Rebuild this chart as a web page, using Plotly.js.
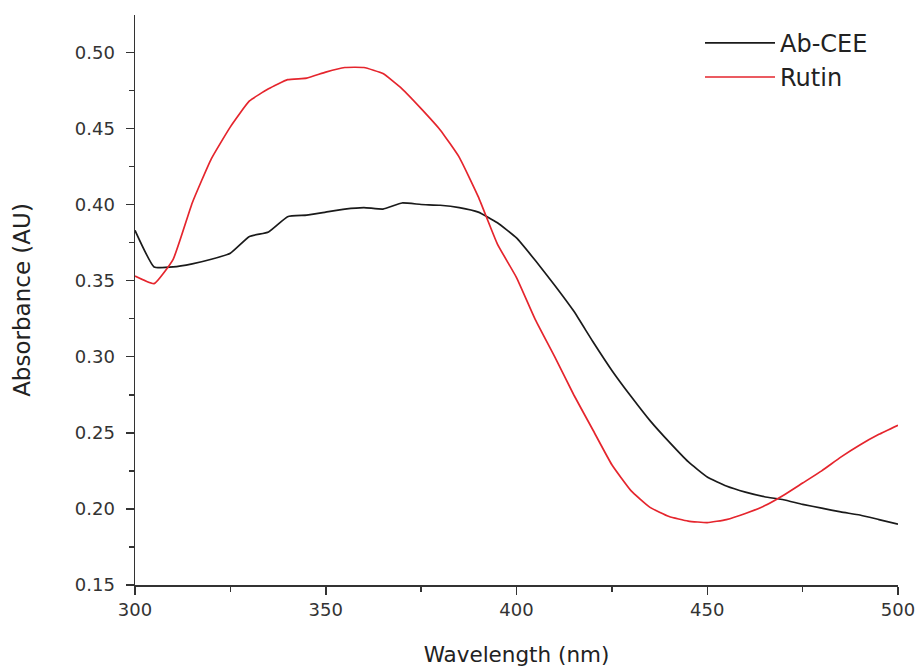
<!DOCTYPE html>
<html>
<head>
<meta charset="utf-8">
<script src="https://cdn.plot.ly/plotly-3.0.1.min.js"></script>
<style>html,body{margin:0;padding:0;background:#fff;}#chart{width:920px;height:667px;}</style>
</head>
<body>
<div id="chart"></div>
<script>
const wavelength = [300,305,310,315,320,325,330,335,340,345,350,355,360,365,370,375,380,385,390,395,400,405,410,415,420,425,430,435,440,445,450,455,460,465,470,475,480,485,490,495,500];
const abCEE = [0.383,0.359,0.359,0.361,0.364,0.368,0.379,0.382,0.392,0.393,0.395,0.397,0.398,0.397,0.401,0.400,0.3995,0.398,0.395,0.388,0.378,0.363,0.347,0.330,0.310,0.291,0.274,0.258,0.244,0.231,0.221,0.215,0.211,0.208,0.206,0.203,0.2005,0.198,0.196,0.193,0.190];
const rutin = [0.353,0.348,0.364,0.401,0.430,0.451,0.468,0.476,0.482,0.483,0.487,0.490,0.490,0.486,0.476,0.463,0.449,0.431,0.405,0.374,0.352,0.324,0.300,0.275,0.252,0.229,0.212,0.201,0.195,0.192,0.191,0.193,0.197,0.202,0.209,0.217,0.225,0.234,0.242,0.249,0.255];
const seriesNames = ['Ab-CEE','Rutin'];
const yTicks = [0.15,0.20,0.25,0.30,0.35,0.40,0.45,0.50];
const yTickText = ['0.15','0.20','0.25','0.30','0.35','0.40','0.45','0.50'];
const xTicks = [300,350,400,450,500];

const fam = '"DejaVu Sans", sans-serif';
const traces = [
  {x: wavelength, y: abCEE, name: seriesNames[0], mode:'lines', line:{color:'#1a1a1a', width:1.7, shape:'spline', smoothing:0.4}},
  {x: wavelength, y: rutin, name: seriesNames[1], mode:'lines', line:{color:'#e5252d', width:1.7, shape:'spline', smoothing:0.4}}
];
const layout = {
  width:920, height:667,
  margin:{l:135, r:22, t:15, b:82},
  paper_bgcolor:'#fff', plot_bgcolor:'#fff',
  font: {family:fam, color:'#333', size:18},
  showlegend:true,
  legend:{x:0.7405, y:0.99, xanchor:'left', yanchor:'top', font:{family:fam, size:24, color:'#222'}, bgcolor:'rgba(0,0,0,0)', itemwidth:70, tracegroupgap:0},
  xaxis:{
    range:[300,500], tickvals:xTicks, ticktext:xTicks.map(String),
    showgrid:false, zeroline:false, showline:true, linecolor:'#333', linewidth:1.5,
    ticks:'outside', ticklen:8, tickwidth:1.5, tickcolor:'#333',
    minor:{dtick:25, ticks:'outside', ticklen:5, tickwidth:1.5, tickcolor:'#333', showgrid:false},
    tickfont:{family:fam, size:18, color:'#333'},
    title:{text:'Wavelength (nm)', font:{family:fam, size:21.5, color:'#222'}, standoff:29}
  },
  yaxis:{
    range:[0.15,0.5245], tickvals:yTicks, ticktext:yTickText,
    showgrid:false, zeroline:false, showline:true, linecolor:'#333', linewidth:1.5,
    ticks:'outside', ticklen:8, tickwidth:1.5, tickcolor:'#333', ticklabelstandoff:7,
    minor:{dtick:0.025, tick0:0.15, ticks:'outside', ticklen:5, tickwidth:1.5, tickcolor:'#333', showgrid:false},
    tickfont:{family:fam, size:18, color:'#333'},
    title:{text:'Absorbance (AU)', font:{family:fam, size:23, color:'#222'}, standoff:38}
  }
};
Plotly.newPlot('chart', traces, layout, {staticPlot:true, displayModeBar:false});
</script>
</body>
</html>
